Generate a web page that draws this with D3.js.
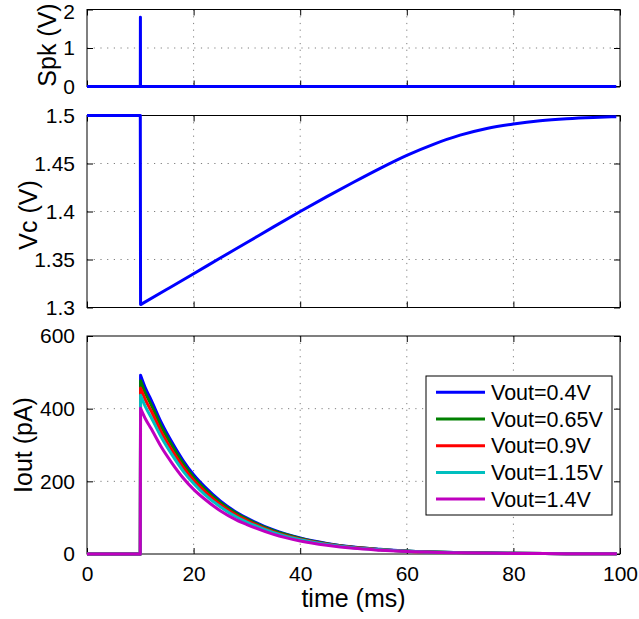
<!DOCTYPE html>
<html>
<head>
<meta charset="utf-8">
<script src="https://cdn.jsdelivr.net/npm/d3@7"></script>
<style>
  html, body { margin: 0; padding: 0; background: #fff; }
  svg { display: block; font-family: "Liberation Sans", Arial, Helvetica, sans-serif; }
</style>
</head>
<body>
<svg id="chart" width="639" height="619"></svg>
<script>
// ---------------- data ----------------
const xTicks = [0, 20, 40, 60, 80, 100];

const spkTime = [0, 10, 10.02, 10.04, 99.3];
const spkValues = [0, 0, 1.8, 0, 0];
const spkTicks = [0, 1, 2];

const vcTime = [0, 10, 10.05, 15, 20, 25, 30, 35, 40, 45, 50, 55, 60, 65, 70, 75, 80, 85, 90, 95, 99.3];
const vcValues = [1.5, 1.5, 1.303, 1.319, 1.3352, 1.3515, 1.3677, 1.384, 1.400, 1.4155, 1.4305, 1.445, 1.4585, 1.470, 1.4795, 1.4865, 1.4912, 1.4946, 1.4967, 1.498, 1.4987];
const vcTicks = [1.3, 1.35, 1.4, 1.45, 1.5];

const ioutTime = [0, 10, 10.05, 11, 12, 14, 16, 18, 20, 22, 25, 28, 30, 35, 40, 45, 50, 55, 60, 70, 80, 90, 99.4];
const seriesNames = ["Vout=0.4V", "Vout=0.65V", "Vout=0.9V", "Vout=1.15V", "Vout=1.4V"];
const ioutV04  = [0, 0, 492, 455, 425, 360, 306, 258, 218, 186, 146, 115, 99, 66, 44, 29, 19, 13, 8.5, 4, 2, 1, 0.5];
const ioutV065 = [0, 0, 477, 441, 412, 349, 297, 250, 211, 180, 142, 112, 96, 64, 43, 28, 18.4, 12.6, 8.2, 3.9, 1.9, 1, 0.5];
const ioutV09  = [0, 0, 457, 423, 395, 334, 284, 240, 203, 173, 136, 107, 92, 61, 41, 27, 17.6, 12, 7.9, 3.7, 1.9, 0.9, 0.5];
const ioutV115 = [0, 0, 437, 404, 377, 320, 272, 229, 194, 165, 130, 102, 88, 59, 39, 26, 16.9, 11.5, 7.5, 3.6, 1.8, 0.9, 0.4];
const ioutV14  = [0, 0, 401, 371, 346, 293, 249, 210, 178, 152, 119, 94, 81, 54, 36, 24, 15.5, 10.6, 6.9, 3.3, 1.6, 0.8, 0.4];
const ioutSeries = [ioutV04, ioutV065, ioutV09, ioutV115, ioutV14];
const ioutTicks = [0, 200, 400, 600];
const seriesColors = ["#0000ff", "#008000", "#ff0000", "#00bfbf", "#bf00bf"];

// ---------------- layout ----------------
const svg = d3.select("#chart");
const X0 = 87, X1 = 620;
const x = d3.scaleLinear().domain([0, 100]).range([X0, X1]);

const panels = [
  { top: 9.5,   bottom: 86.5,  domain: [0, 2],     ticks: spkTicks,  fmt: d3.format("d"),
    label: "Spk (V)", labelX: 56, labelY: 45, gridY: [1] },
  { top: 115.5, bottom: 307.5, domain: [1.3, 1.5], ticks: vcTicks,   fmt: d => String(+d.toFixed(2)),
    label: "Vc (V)", labelX: 37, labelY: 215, gridY: [1.35, 1.4, 1.45] },
  { top: 336,   bottom: 554,   domain: [0, 600],   ticks: ioutTicks, fmt: d3.format("d"),
    label: "Iout (pA)", labelX: 32, labelY: 445, gridY: [200, 400] }
];
panels.forEach(p => { p.y = d3.scaleLinear().domain(p.domain).range([p.bottom, p.top]); });

const TICK_FONT = 21, LABEL_FONT = 25, TICK_LEN = 6;

function drawFrame(p, showXLabels) {
  const g = svg.append("g");
  const grid = g.append("g").attr("stroke", "#7f7f7f").attr("stroke-width", 1)
    .attr("stroke-dasharray", "1.2,5.5");
  xTicks.filter(t => t > 0 && t < 100).forEach(t => {
    grid.append("line").attr("x1", x(t)).attr("x2", x(t))
      .attr("y1", p.top).attr("y2", p.bottom);
  });
  p.gridY.forEach(v => {
    grid.append("line").attr("x1", X0).attr("x2", X1)
      .attr("y1", p.y(v)).attr("y2", p.y(v));
  });
  const left = d3.axisLeft(p.y).tickValues(p.ticks).tickSize(-TICK_LEN).tickPadding(TICK_LEN + 6).tickFormat(p.fmt);
  const right = d3.axisRight(p.y).tickValues(p.ticks).tickSize(-TICK_LEN).tickFormat("");
  const bottom = d3.axisBottom(x).tickValues(xTicks).tickSize(-TICK_LEN).tickPadding(TICK_LEN + 6)
    .tickFormat(showXLabels ? d3.format("d") : "");
  const top = d3.axisTop(x).tickValues(xTicks).tickSize(-TICK_LEN).tickFormat("");

  const style = sel => {
    sel.select(".domain").remove();
    sel.selectAll(".tick line").attr("stroke", "#000").attr("stroke-width", 1);
    sel.selectAll(".tick text").attr("fill", "#000")
      .attr("font-size", TICK_FONT).attr("font-family", "Liberation Sans, Arial, sans-serif");
  };
  const lg = g.append("g").attr("transform", `translate(${X0},0)`).call(left).call(style);
  // keep the topmost tick label's box inside the picture
  lg.selectAll(".tick text").attr("dy", function(d) {
    return (p.y(d) < 14) ? "0.55em" : "0.32em";
  }).attr("transform", function(d) { return (p.y(d) < 14) ? "translate(0,-3)" : null; });
  g.append("g").attr("transform", `translate(${X1},0)`).call(right).call(style);
  g.append("g").attr("transform", `translate(0,${p.bottom})`).call(bottom).call(style);
  g.append("g").attr("transform", `translate(0,${p.top})`).call(top).call(style);
  g.append("rect").attr("x", X0).attr("y", p.top).attr("width", X1 - X0).attr("height", p.bottom - p.top)
    .attr("fill", "none").attr("stroke", "#000").attr("stroke-width", 1);
  svg.append("text").attr("transform", `translate(${p.labelX},${p.labelY}) rotate(-90)`)
    .attr("text-anchor", "middle").attr("font-size", LABEL_FONT).attr("fill", "#000")
    .text(p.label);
  return g;
}

// top panel
drawFrame(panels[0], false);
const spkLine = d3.line().x((d, i) => x(spkTime[i])).y(d => panels[0].y(d));
svg.append("path").datum(spkValues).attr("d", spkLine)
  .attr("fill", "none").attr("stroke", "#0000ff").attr("stroke-width", 3).attr("stroke-linejoin", "round");

// middle panel: flat + drop drawn straight, recovery drawn smooth
drawFrame(panels[1], false);
const vcPts = vcValues.map((v, i) => [vcTime[i], v]);
const vcStraight = d3.line().x(d => x(d[0])).y(d => panels[1].y(d[1]));
const vcSmooth = d3.line().curve(d3.curveMonotoneX).x(d => x(d[0])).y(d => panels[1].y(d[1]));
const dropEnd = 2;
const vcPath = vcStraight(vcPts.slice(0, dropEnd + 1)) + vcSmooth(vcPts.slice(dropEnd)).replace(/^M[^C]*?(?=C|L)/, "");
svg.append("path").attr("d", vcPath)
  .attr("fill", "none").attr("stroke", "#0000ff").attr("stroke-width", 3).attr("stroke-linejoin", "round");

// bottom panel
drawFrame(panels[2], true);
ioutSeries.forEach((s, k) => {
  const pts = s.map((v, i) => [ioutTime[i], v]);
  const path = vcStraight.y(d => panels[2].y(d[1]))(pts.slice(0, 3)) +
    d3.line().curve(d3.curveMonotoneX).x(d => x(d[0])).y(d => panels[2].y(d[1]))(pts.slice(2)).replace(/^M[^C]*?(?=C|L)/, "");
  svg.append("path").attr("d", path)
    .attr("fill", "none").attr("stroke", seriesColors[k]).attr("stroke-width", 3)
    .attr("stroke-linejoin", "round");
});

// x label
svg.append("text").attr("x", (X0 + X1) / 2).attr("y", 607).attr("text-anchor", "middle")
  .attr("font-size", LABEL_FONT).attr("fill", "#000").text("time (ms)");

// legend
const leg = svg.append("g");
const LX = 426, LY = 376, LW = 186, LH = 139, ROW = 26.7;
leg.append("rect").attr("x", LX).attr("y", LY).attr("width", LW).attr("height", LH)
  .attr("fill", "#fff").attr("stroke", "#000").attr("stroke-width", 1);
seriesNames.forEach((name, k) => {
  const cy = LY + 16.3 + k * ROW;
  leg.append("line").attr("x1", LX + 10).attr("x2", LX + 59).attr("y1", cy).attr("y2", cy)
    .attr("stroke", seriesColors[k]).attr("stroke-width", 3);
  leg.append("text").attr("x", LX + 65).attr("y", cy).attr("dy", "0.36em")
    .attr("font-size", 21.5).attr("fill", "#000").text(name);
});
</script>
</body>
</html>
